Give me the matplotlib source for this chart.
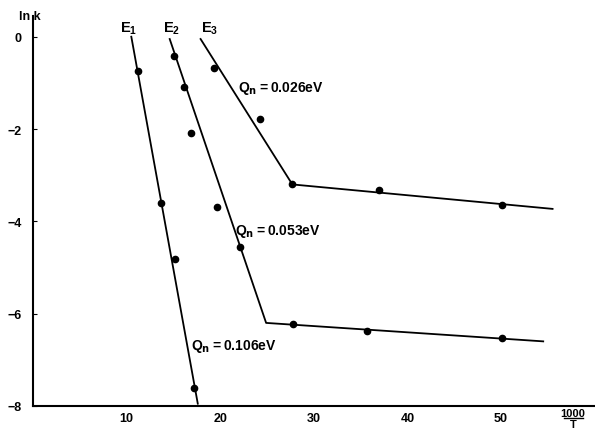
import matplotlib
matplotlib.use("Agg")
import matplotlib.pyplot as plt

# measured points (1000/T, ln k)
e1_x = [11.2, 13.7, 15.2, 17.2]
e1_y = [-0.74, -3.6, -4.82, -7.61]
e2_x = [15.1, 16.1, 16.9, 19.7, 22.1, 27.8, 35.7, 50.1]
e2_y = [-0.41, -1.1, -2.09, -3.69, -4.56, -6.23, -6.38, -6.53]
e3_x = [19.3, 24.2, 27.7, 37.0, 50.1]
e3_y = [-0.68, -1.79, -3.19, -3.31, -3.64]

# fitted straight lines (breakpoints)
fit1_x = [10.5, 17.6]
fit1_y = [0.0, -7.95]
fit2_x = [14.6, 24.9, 54.5]
fit2_y = [-0.05, -6.2, -6.6]
fit3_x = [17.9, 27.7, 55.5]
fit3_y = [-0.05, -3.2, -3.73]

labels = ["E$_1$", "E$_2$", "E$_3$"]
label_x = [9.3, 13.9, 17.9]
q_texts = ["Q$_\\mathrm{n}$$=$0.026eV", "Q$_\\mathrm{n}$$=$0.053eV", "Q$_\\mathrm{n}$$=$0.106eV"]
q_x = [21.9, 21.6, 16.9]
q_y = [-1.1, -4.2, -6.7]

yticks = [0, -2, -4, -6, -8]
xticks = [10, 20, 30, 40, 50]

plt.rcParams['font.family'] = ['Liberation Sans', 'DejaVu Sans']
plt.rcParams['font.weight'] = 'bold'
plt.rcParams['mathtext.default'] = 'regular'

fig = plt.figure(figsize=(5.95, 4.31), dpi=100)
ax = fig.add_axes([0.0555, 0.0557, 0.944, 0.905])

for fx, fy in [(fit1_x, fit1_y), (fit2_x, fit2_y), (fit3_x, fit3_y)]:
    ax.plot(fx, fy, color='black', linewidth=1.3)
for px, py in [(e1_x, e1_y), (e2_x, e2_y), (e3_x, e3_y)]:
    ax.plot(px, py, 'o', color='black', markersize=4.5)

for lab, lx in zip(labels, label_x):
    ax.text(lx, 0.02, lab, fontsize=10.5, fontweight='bold', ha='left', va='bottom')
for qt, qx, qy in zip(q_texts, q_x, q_y):
    ax.text(qx, qy, qt, fontsize=10, fontweight='bold', ha='left', va='center')

ax.set_xlim(0, 60)
ax.set_ylim(-8, 0.45)
for s in ['top', 'right']:
    ax.spines[s].set_visible(False)
for s in ['left', 'bottom']:
    ax.spines[s].set_linewidth(1.5)

ax.set_yticks(yticks)
ax.set_yticklabels(['0', '\u22122', '\u22124', '\u22126', '\u22128'], fontsize=9, fontweight='bold')
ax.set_xticks(xticks)
ax.set_xticklabels([str(t) for t in xticks], fontsize=9, fontweight='bold')
ax.tick_params(axis='y', direction='in', length=3, pad=8)
ax.tick_params(axis='x', length=0, pad=4)

ax.text(-0.025, 1.0, 'ln k', transform=ax.transAxes, fontsize=9, fontweight='bold',
        ha='left', va='center')
ax.text(57.7, -8.16, '1000', fontsize=8, fontweight='bold', ha='center', va='center')
ax.plot([56.7, 58.7], [-8.26, -8.26], color='black', linewidth=1.0, clip_on=False)
ax.text(57.7, -8.39, 'T', fontsize=8, fontweight='bold', ha='center', va='center')

fig.savefig('out.png', dpi=100)
